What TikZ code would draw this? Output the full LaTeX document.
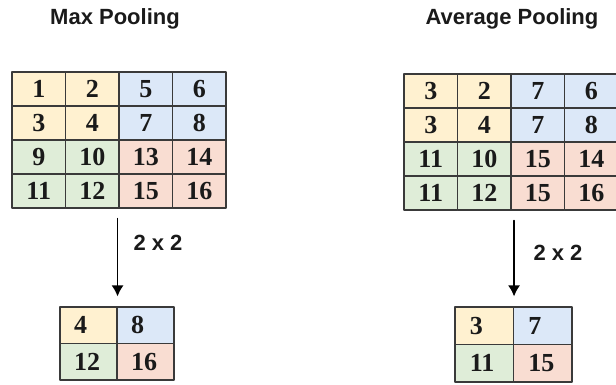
\documentclass[tikz,border=0pt]{standalone}
\usepackage{fontspec}
\setmainfont{Liberation Serif}
\newfontfamily\headfont{Liberation Sans}
\usetikzlibrary{arrows.meta}
\definecolor{poolink}{HTML}{1A1A1A}
\definecolor{poolline}{HTML}{3A3A3A}
\definecolor{poolA}{HTML}{FFF1D0}
\definecolor{poolB}{HTML}{DCE8F8}
\definecolor{poolC}{HTML}{DFEDD8}
\definecolor{poolD}{HTML}{F9DDD2}

\begin{document}
\begin{tikzpicture}[x=1pt, y=-1pt, line cap=round, line join=round,
  cell/.style={draw=poolline, line width=1.1pt, inner sep=0pt, text=poolink,
    minimum width=53.5pt, minimum height=34pt,
    font=\fontsize{26}{26}\selectfont\bfseries},
  smallcell/.style={cell, minimum width=57pt, minimum height=36.5pt,
    text width=29pt, align=left},
  head/.style={text=poolink, font=\headfont\bfseries\fontsize{22}{22}\selectfont},
  flow/.style={draw=black, line width=1.6pt, -{Latex[length=11pt, width=12pt]},
    shorten <=10pt, shorten >=10pt}]
  \useasboundingbox (0,0) rectangle (616,385);

  % titles
  \node[head] (maxtitle) at (115,19) {Max Pooling};
  \node[head] (avgtitle) at (512,19) {Average Pooling};

  % 4x4 inputs, colour by 2x2 block
  \foreach \v [count=\i from 0] in {1,2,5,6,3,4,7,8,9,10,13,14,11,12,15,16} {
    \pgfmathtruncatemacro\r{int(\i/4)}
    \pgfmathtruncatemacro\c{mod(\i,4)}
    \pgfmathtruncatemacro\q{2*int(\r/2)+int(\c/2)}
    \pgfmathsetmacro\col{{"poolA","poolB","poolC","poolD"}[\q]}
    \node[cell, fill=\col] (mx-\r-\c) at ({12+53.5*(\c+0.5)},{72+34*(\r+0.5)}) {\v};
  }
  \foreach \v [count=\i from 0] in {3,2,7,6,3,4,7,8,11,10,15,14,11,12,15,16} {
    \pgfmathtruncatemacro\r{int(\i/4)}
    \pgfmathtruncatemacro\c{mod(\i,4)}
    \pgfmathtruncatemacro\q{2*int(\r/2)+int(\c/2)}
    \pgfmathsetmacro\col{{"poolA","poolB","poolC","poolD"}[\q]}
    \node[cell, fill=\col] (av-\r-\c) at ({404+53.5*(\c+0.5)},{74+34*(\r+0.5)}) {\v};
  }

  % 2x2 outputs
  \foreach \v/\col [count=\i from 0] in {4/poolA,8/poolB,12/poolC,16/poolD} {
    \pgfmathtruncatemacro\r{int(\i/2)}
    \pgfmathtruncatemacro\c{mod(\i,2)}
    \node[smallcell, fill=\col] (ms-\r-\c) at ({60+57*(\c+0.5)},{307+36.5*(\r+0.5)}) {\v};
  }
  \foreach \v/\col [count=\i from 0] in {3/poolA,7/poolB,11/poolC,15/poolD} {
    \pgfmathtruncatemacro\r{int(\i/2)}
    \pgfmathtruncatemacro\c{mod(\i,2)}
    \node[smallcell, fill=\col, minimum width=58.5pt, minimum height=37.5pt]
      (as-\r-\c) at ({455+58.5*(\c+0.5)},{307+37.5*(\r+0.5)}) {\v};
  }

  % pooling arrows
  \draw[flow] (mx-3-1.south east -| ms-0-0.north east) -- (ms-0-0.north east);
  \draw[flow] (av-3-1.south east -| as-0-0.north east) -- (as-0-0.north east);
  \node[head, anchor=west] (maxwin) at (130,243) {2 x 2};
  \node[head, anchor=west] (avgwin) at (530,253) {2 x 2};
\end{tikzpicture}
\end{document}
